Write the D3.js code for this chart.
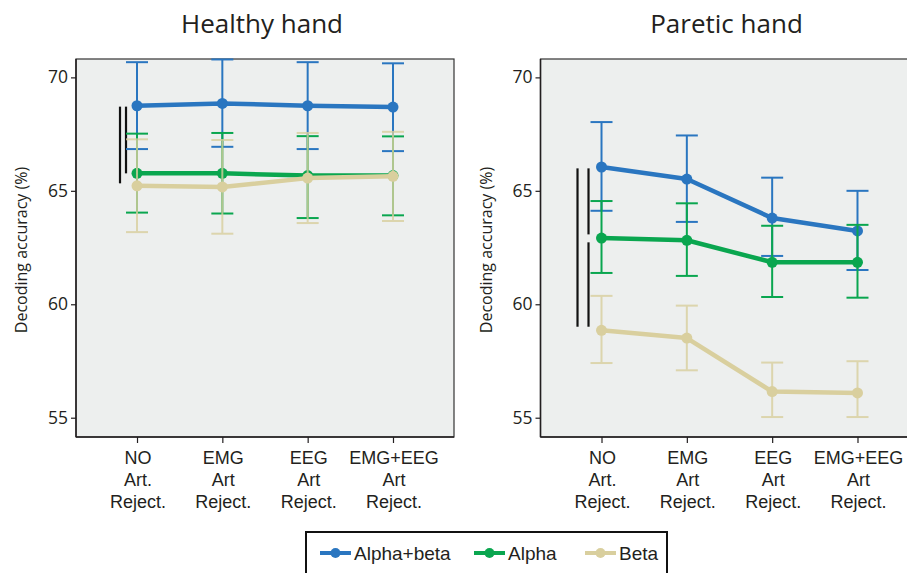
<!DOCTYPE html>
<html>
<head>
<meta charset="utf-8">
<script src="https://cdn.jsdelivr.net/npm/d3@7"></script>
<style>
  body { margin: 0; background: #fff; }
  svg { display: block; }
</style>
</head>
<body>
<div id="chart"></div>
<script>
// Conditions (x categories), each label split into lines
const conditions = ["NO", "EMG", "EEG", "EMG+EEG"];
const conditionLabels = [
  ["NO", "Art.", "Reject."],
  ["EMG", "Art", "Reject."],
  ["EEG", "Art", "Reject."],
  ["EMG+EEG", "Art", "Reject."],
];
const seriesNames = ["Alpha+beta", "Alpha", "Beta"];
const yTicks = [55, 60, 65, 70];

// Healthy hand: means and error bar ends
const healthyAlphaBeta = [68.75, 68.85, 68.75, 68.69];
const healthyAlphaBetaLo = [66.84, 66.94, 66.84, 66.75];
const healthyAlphaBetaHi = [70.67, 70.79, 70.67, 70.62];
const healthyAlpha = [65.77, 65.77, 65.67, 65.67];
const healthyAlphaLo = [64.04, 64.0, 63.8, 63.92];
const healthyAlphaHi = [67.52, 67.55, 67.41, 67.4];
const healthyBeta = [65.22, 65.17, 65.56, 65.64];
const healthyBetaLo = [63.18, 63.11, 63.58, 63.67];
const healthyBetaHi = [67.27, 67.24, 67.55, 67.6];

// Paretic hand
const pareticAlphaBeta = [66.05, 65.52, 63.8, 63.23];
const pareticAlphaBetaLo = [64.12, 63.63, 62.13, 61.51];
const pareticAlphaBetaHi = [68.03, 67.44, 65.58, 65.0];
const pareticAlpha = [62.92, 62.82, 61.85, 61.85];
const pareticAlphaLo = [61.38, 61.25, 60.32, 60.29];
const pareticAlphaHi = [64.55, 64.45, 63.46, 63.5];
const pareticBeta = [58.85, 58.51, 56.15, 56.09];
const pareticBetaLo = [57.41, 57.09, 55.03, 55.03];
const pareticBetaHi = [60.37, 59.94, 57.43, 57.49];

// Significance bars: [lane, from, to]
const healthySig = [[0, 68.71, 65.33], [1, 68.71, 65.77]];
const pareticSig = [[0, 65.99, 59.01], [1, 65.99, 63.08], [1, 62.73, 59.01]];

const colors = ["#2a76c0", "#0aa64f", "#d9cf9e"];

const width = 907;
const height = 573;

const svg = d3.select("#chart").append("svg")
  .attr("width", width)
  .attr("height", height)
  .attr("viewBox", [0, 0, width, height]);

function drawPanel(left, title, series, sig, laneX) {
  const top = 59, bottom = 437, w = 378;

  const x = d3.scalePoint().domain(conditions).range([left, left + w]).padding(0.715);
  const y = d3.scaleLinear().domain([54.15, 70.81]).range([bottom, top]);

  const g = svg.append("g");

  g.append("rect")
    .attr("x", left).attr("y", top)
    .attr("width", w).attr("height", bottom - top)
    .attr("fill", "#edefee")
    .attr("stroke", "#333").attr("stroke-width", 1.2);

  // title
  svg.append("text")
    .attr("x", left + w / 2 - 3).attr("y", 33)
    .attr("text-anchor", "middle")
    .attr("font-family", "Open Sans")
    .attr("font-size", 26)
    .attr("fill", "#231f20")
    .text(title);

  // axes
  const yAxis = g.append("g")
    .attr("transform", `translate(${left},0)`)
    .call(d3.axisLeft(y).tickValues(yTicks).tickSize(5).tickPadding(3));
  yAxis.selectAll("text").attr("font-family", "Open Sans").attr("font-size", 17.5).attr("fill", "#231f20");
  yAxis.selectAll("line").attr("stroke", "#231f20").attr("stroke-width", 1.2);
  yAxis.select(".domain").attr("stroke", "#231f20").attr("stroke-width", 1.5).attr("d", `M0,${top}V${bottom}`);

  const xAxis = g.append("g")
    .attr("transform", `translate(0,${bottom})`)
    .call(d3.axisBottom(x).tickSize(6).tickFormat(""));
  xAxis.selectAll("line").attr("stroke", "#231f20").attr("stroke-width", 1.2);
  xAxis.select(".domain").attr("stroke", "#231f20").attr("stroke-width", 1.5).attr("d", `M${left},0H${left + w}`);

  // multi-line category labels
  const lab = g.append("g").selectAll("text")
    .data(conditions)
    .join("text")
    .attr("x", (d) => x(d) + 1)
    .attr("y", bottom + 27)
    .attr("text-anchor", "middle")
    .attr("font-family", "Liberation Sans, Arial")
    .attr("font-size", 18)
    .attr("fill", "#231f20");
  lab.selectAll("tspan")
    .data((d, i) => conditionLabels[i])
    .join("tspan")
    .attr("x", function () { return d3.select(this.parentNode).attr("x"); })
    .attr("dy", (d, i) => (i === 0 ? 0 : 22))
    .text((d) => d);

  // y label
  svg.append("text")
    .attr("transform", `translate(${left - 49},${(top + bottom) / 2 + 2}) rotate(-90)`)
    .attr("text-anchor", "middle")
    .attr("font-family", "Open Sans")
    .attr("font-size", 16)
    .attr("fill", "#231f20")
    .text("Decoding accuracy (%)");

  // significance bars
  g.append("g").selectAll("line")
    .data(sig)
    .join("line")
    .attr("x1", (d) => x(conditions[0]) + laneX[d[0]])
    .attr("x2", (d) => x(conditions[0]) + laneX[d[0]])
    .attr("y1", (d) => y(d[1]))
    .attr("y2", (d) => y(d[2]))
    .attr("stroke", "#111")
    .attr("stroke-width", 2.2);

  const line = d3.line().x((d, i) => x(conditions[i])).y((d) => y(d));

  series.forEach((s, k) => {
    const sg = g.append("g");
    const barOpacity = k === 2 ? 0.8 : 1;
    // error bars
    const eb = sg.append("g")
      .attr("stroke", colors[k])
      .attr("stroke-width", 2)
      .attr("opacity", barOpacity);
    eb.selectAll(".v").data(conditions).join("line")
      .attr("x1", (d) => x(d)).attr("x2", (d) => x(d))
      .attr("y1", (d, i) => y(s.lo[i])).attr("y2", (d, i) => y(s.hi[i]));
    eb.selectAll(".hi").data(conditions).join("line").attr("class", "hi")
      .attr("x1", (d) => x(d) - 11).attr("x2", (d) => x(d) + 11)
      .attr("y1", (d, i) => y(s.hi[i])).attr("y2", (d, i) => y(s.hi[i]));
    eb.selectAll(".lo").data(conditions).join("line").attr("class", "lo")
      .attr("x1", (d) => x(d) - 11).attr("x2", (d) => x(d) + 11)
      .attr("y1", (d, i) => y(s.lo[i])).attr("y2", (d, i) => y(s.lo[i]));

    sg.append("path")
      .datum(s.mean)
      .attr("fill", "none")
      .attr("stroke", colors[k])
      .attr("stroke-width", 4.5)
      .attr("stroke-linejoin", "round")
      .attr("d", line);

    sg.selectAll("circle").data(s.mean).join("circle")
      .attr("cx", (d, i) => x(conditions[i]))
      .attr("cy", (d) => y(d))
      .attr("r", 5.5)
      .attr("fill", colors[k]);
  });
}

drawPanel(76, "Healthy hand", [
  { mean: healthyAlphaBeta, lo: healthyAlphaBetaLo, hi: healthyAlphaBetaHi },
  { mean: healthyAlpha, lo: healthyAlphaLo, hi: healthyAlphaHi },
  { mean: healthyBeta, lo: healthyBetaLo, hi: healthyBetaHi },
], healthySig, [-17, -11]);

drawPanel(540.5, "Paretic hand", [
  { mean: pareticAlphaBeta, lo: pareticAlphaBetaLo, hi: pareticAlphaBetaHi },
  { mean: pareticAlpha, lo: pareticAlphaLo, hi: pareticAlphaHi },
  { mean: pareticBeta, lo: pareticBetaLo, hi: pareticBetaHi },
], pareticSig, [-24, -13]);

// Legend
const legend = svg.append("g");
legend.append("rect")
  .attr("x", 306).attr("y", 532)
  .attr("width", 361).attr("height", 60)
  .attr("fill", "#fff")
  .attr("stroke", "#111")
  .attr("stroke-width", 2);

const legendX = [320, 474, 585];
const item = legend.selectAll("g.item")
  .data(seriesNames)
  .join("g")
  .attr("class", "item")
  .attr("transform", (d, i) => `translate(${legendX[i]},553)`);
item.append("line")
  .attr("x1", 0).attr("x2", 31)
  .attr("stroke", (d, i) => colors[i])
  .attr("stroke-width", 4);
item.append("circle")
  .attr("cx", 15.5).attr("r", 5)
  .attr("fill", (d, i) => colors[i]);
item.append("text")
  .attr("x", 34).attr("y", 7)
  .attr("font-family", "Liberation Sans, Arial")
  .attr("font-size", 19)
  .attr("fill", "#231f20")
  .text((d) => d);
</script>
</body>
</html>
